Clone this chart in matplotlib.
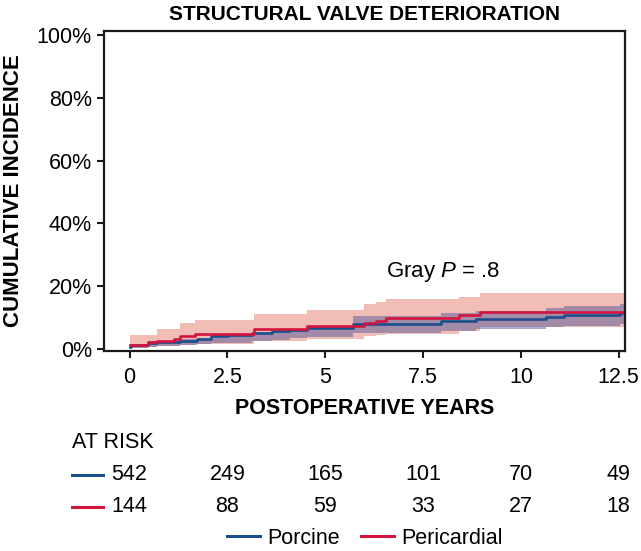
import matplotlib
matplotlib.use('Agg')
import matplotlib.pyplot as plt
import matplotlib.transforms as mtransforms
from matplotlib.lines import Line2D

plt.rcParams.update({
    'font.family': ['Liberation Sans', 'DejaVu Sans'],
    'font.size': 15.5,
    'mathtext.fontset': 'custom',
    'mathtext.rm': 'Liberation Sans',
    'mathtext.it': 'Liberation Sans:italic',
})

# Pericardial: step times (years), estimate and CI (%)
peri_t = [0, 0.46, 0.69, 1.13, 1.28, 1.67, 3.19, 4.53, 5.99, 6.29, 6.56, 8.43, 8.96]
peri_est = [1.2, 2.0, 2.6, 3.2, 3.9, 4.7, 6.3, 7.3, 8.3, 8.9, 9.7, 10.8, 11.8]
peri_hi = [4.4, 4.4, 6.3, 6.3, 8.2, 9.2, 11.0, 12.3, 14.2, 14.9, 15.8, 16.6, 17.9]
peri_lo = [0.3, 0.5, 0.8, 1.0, 1.2, 1.6, 2.4, 3.2, 3.9, 4.3, 4.7, 5.5, 6.9]

# Porcine: step times (years), estimate and CI (%)
porc_t = [0, 0.04, 0.48, 0.70, 1.28, 1.72, 2.07, 2.51, 3.13, 3.65, 4.09, 4.53,
          5.72, 7.97, 8.85, 10.65, 11.09, 12.54]
porc_est = [0.5, 1.1, 1.8, 2.2, 2.6, 3.2, 3.9, 4.3, 4.9, 5.5, 6.0, 6.6,
            7.8, 8.9, 9.5, 10.0, 10.7, 11.3]
porc_hi = [1.6, 1.6, 2.4, 2.4, 3.2, 3.2, 4.2, 4.2, 5.3, 6.3, 6.3, 7.4,
           10.3, 11.3, 12.0, 12.9, 13.7, 14.4]
porc_lo = [0.0, 0.3, 0.6, 0.8, 1.2, 1.4, 1.7, 1.9, 2.5, 2.9, 3.3, 3.8,
           5.0, 5.8, 6.3, 6.8, 7.3, 7.9]

t_end = 12.63

risk_years = [0, 2.5, 5, 7.5, 10, 12.5]
risk_porc = [542, 249, 165, 101, 70, 49]
risk_peri = [144, 88, 59, 33, 27, 18]

BLUE = '#1a4f8c'
RED = '#d3143f'
PINK = '#f2bdb4'
BAND = '#55589a'

W, H = 641, 551
fig = plt.figure(figsize=(W / 100, H / 100), dpi=100)
ax = fig.add_axes([104.5 / W, 1 - 350.7 / H, (625 - 104.5) / W, (350.7 - 31) / H])


def ext(t, v):
    return t + [t_end], v + [v[-1]]


x, lo = ext(peri_t, peri_lo)
_, hi = ext(peri_t, peri_hi)
ax.fill_between(x, lo, hi, step='post', color=PINK, lw=0)
x, lo = ext(porc_t, porc_lo)
_, hi = ext(porc_t, porc_hi)
ax.fill_between(x, lo, hi, step='post', color=BAND, alpha=0.5, lw=0)

x, y = ext(porc_t, porc_est)
ax.step(x, y, where='post', color=BLUE, lw=1.9)
x, y = ext(peri_t, peri_est)
ax.step(x, y, where='post', color=RED, lw=1.9)

ax.set_xlim(-0.64, 12.66)
ax.set_ylim(-0.64, 101.4)
ax.set_xticks(risk_years)
ax.set_xticklabels(['0', '2.5', '5', '7.5', '10', '12.5'])
ax.set_yticks([0, 20, 40, 60, 80, 100])
ax.set_yticklabels(['0%', '20%', '40%', '60%', '80%', '100%'])
for s in ax.spines.values():
    s.set_linewidth(1.6)
    s.set_color('#1a1a1a')
ax.tick_params(direction='out', length=5, width=1.5, color='#1a1a1a', labelsize=15.5)
ax.tick_params(axis='x', pad=7)
ax.tick_params(axis='y', pad=4)

ax.set_title('STRUCTURAL VALVE DETERIORATION', fontsize=15, fontweight='bold', pad=8)
ax.set_xlabel('POSTOPERATIVE YEARS', fontsize=15.5, fontweight='bold', labelpad=7)
ax.set_ylabel('CUMULATIVE INCIDENCE', fontsize=16, fontweight='bold', labelpad=9)

ax.text(6.55, 24.5, 'Gray $\\mathit{P}$ = .8', fontsize=16, va='center', ha='left')

# at-risk table
fig.text(72 / W, 1 - 442 / H, 'AT RISK', fontsize=15.5, va='center', ha='left')
trans = mtransforms.blended_transform_factory(ax.transData, fig.transFigure)
for row_y, vals, col in [(475, risk_porc, BLUE), (507, risk_peri, RED)]:
    fy = 1 - row_y / H
    fig.add_artist(Line2D([72 / W, 103 / W], [fy, fy], color=col, lw=2.2))
    for yr, v in zip(risk_years, vals):
        ax.text(yr, fy, str(v), transform=trans, fontsize=15.5, ha='center', va='center')

handles = [Line2D([], [], color=BLUE, lw=2.2), Line2D([], [], color=RED, lw=2.2)]
fig.legend(handles, ['Porcine', 'Pericardial'], loc='center', ncol=2, frameon=False,
           bbox_to_anchor=(365 / W, 1 - 538 / H), fontsize=15.5, handlelength=1.5,
           handletextpad=0.35, columnspacing=1.0)

fig.savefig('out.png', dpi=100)
